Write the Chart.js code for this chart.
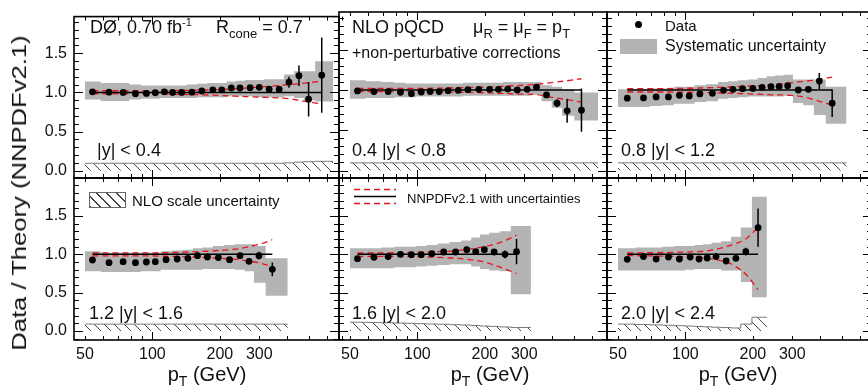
<!DOCTYPE html>
<html>
<head>
<meta charset="utf-8">
<script src="https://cdn.jsdelivr.net/npm/chart.js@4.4.1/dist/chart.umd.min.js"></script>
<style>
  body { margin: 0; background: #fff; }
  #wrap { position: relative; width: 868px; height: 392px; overflow: hidden; background: #fff;
          font-family: "Liberation Sans", Arial, sans-serif; color: #111; }
  #charts canvas { position: absolute; left: 0; top: 0; }
  .t { position: absolute; white-space: nowrap; line-height: 1; transform: translateY(-50%); }
  .t sup { font-size: 11px; vertical-align: 7px; line-height: 0; }
  .t sub { font-size: 13px; vertical-align: -5px; line-height: 0; }
  .ytitle { position: absolute; white-space: nowrap; line-height: 1; font-size: 20px;
            transform: translate(-50%, -50%) rotate(-90deg) scaleX(1.28); }
  .xtitle { position: absolute; white-space: nowrap; line-height: 1; font-size: 20px; transform: translate(-50%, -50%); }
  .xtitle sub { font-size: 14px; vertical-align: -5px; line-height: 0; }
  .sym { position: absolute; }
</style>
</head>
<body>
<div id="wrap">
  <div id="charts"></div>

  <div class="t" style="left:90px;top:27px;font-size:18px">DØ, 0.70 fb<sup>-1</sup></div>
  <div class="t" style="left:216px;top:27px;font-size:18px">R<sub>cone</sub> = 0.7</div>
  <div class="t" style="left:97px;top:150px;font-size:18px">|y| &lt; 0.4</div>

  <div class="t" style="left:352px;top:27px;font-size:18px">NLO pQCD</div>
  <div class="t" style="left:473px;top:27px;font-size:18px">μ<sub>R</sub> = μ<sub>F</sub> = p<sub>T</sub></div>
  <div class="t" style="left:352px;top:53px;font-size:16px">+non-perturbative corrections</div>
  <div class="t" style="left:352px;top:150px;font-size:18px">0.4 |y| &lt; 0.8</div>

  <div class="sym" style="left:635px;top:21px;width:7px;height:7px;border-radius:50%;background:#000"></div>
  <div class="t" style="left:665px;top:25px;font-size:15px">Data</div>
  <div class="sym" style="left:620px;top:39px;width:37px;height:15px;background:#b4b4b4"></div>
  <div class="t" style="left:665px;top:46px;font-size:16px">Systematic uncertainty</div>
  <div class="t" style="left:621px;top:150px;font-size:18px">0.8 |y| &lt; 1.2</div>

  <div class="sym" style="left:89px;top:192px;width:35px;height:14px;border:1px solid #666;
       background:repeating-linear-gradient(45deg,#444 0 1px,transparent 1px 7px)"></div>
  <div class="t" style="left:132px;top:200px;font-size:15px">NLO scale uncertainty</div>
  <div class="t" style="left:89px;top:313px;font-size:18px">1.2 |y| &lt; 1.6</div>

  <svg class="sym" style="left:354px;top:185px" width="44" height="22">
    <line x1="0" y1="4.5" x2="42" y2="4.5" stroke="#e8141b" stroke-width="1.3" stroke-dasharray="6 4"/>
    <line x1="0" y1="11.5" x2="42" y2="11.5" stroke="#000" stroke-width="1.5"/>
    <line x1="0" y1="18.5" x2="42" y2="18.5" stroke="#e8141b" stroke-width="1.3" stroke-dasharray="6 4"/>
  </svg>
  <div class="t" style="left:407px;top:198px;font-size:13px">NNPDFv2.1 with uncertainties</div>
  <div class="t" style="left:352px;top:313px;font-size:18px">1.6 |y| &lt; 2.0</div>

  <div class="t" style="left:621px;top:313px;font-size:18px">2.0 |y| &lt; 2.4</div>

  <div class="ytitle" style="left:19px;top:193px">Data / Theory (NNPDFv2.1)</div>
  <div class="xtitle" style="left:207px;top:374px">p<sub>T</sub> (GeV)</div>
  <div class="xtitle" style="left:490px;top:374px">p<sub>T</sub> (GeV)</div>
  <div class="xtitle" style="left:738px;top:374px">p<sub>T</sub> (GeV)</div>
</div>

<script>
// ---- data ----
// |y| < 0.4
const pt_y1 = [54, 64, 74, 84, 94, 103, 113, 123, 135, 150, 166, 186, 204, 225, 246, 273, 300, 332, 368, 407, 451, 498, 570];
const ratio_y1 = [1.008, 1.004, 1.0, 0.984, 0.988, 0.996, 1.008, 1.0, 1.0, 1.004, 1.02, 1.033, 1.033, 1.057, 1.057, 1.061, 1.066, 1.041, 1.041, 1.131, 1.213, 0.914, 1.221];
const stat_y1 = [0, 0, 0, 0, 0, 0, 0, 0, 0, 0, 0, 0, 0, 0, 0, 0, 0, 0, 0, 0.07, 0.13, 0.22, 0.48];
const sysHi_y1 = [1.14, 1.12, 1.12, 1.10, 1.09, 1.09, 1.09, 1.09, 1.09, 1.10, 1.11, 1.12, 1.12, 1.14, 1.15, 1.16, 1.16, 1.17, 1.17, 1.23, 1.27, 1.27, 1.40];
const sysLo_y1 = [0.91, 0.89, 0.89, 0.91, 0.92, 0.92, 0.93, 0.93, 0.93, 0.93, 0.94, 0.94, 0.94, 0.95, 0.95, 0.95, 0.94, 0.94, 0.94, 0.95, 0.93, 0.90, 0.885];
const pdfUp_y1 = [0.022, 0.022, 0.022, 0.022, 0.022, 0.022, 0.023, 0.024, 0.025, 0.027, 0.03, 0.033, 0.037, 0.043, 0.05, 0.06, 0.068, 0.078, 0.09, 0.1, 0.11, 0.125, 0.145];
const pdfDn_y1 = [-0.018, -0.018, -0.018, -0.018, -0.019, -0.02, -0.022, -0.024, -0.025, -0.027, -0.03, -0.035, -0.04, -0.045, -0.05, -0.055, -0.06, -0.065, -0.07, -0.08, -0.1, -0.12, -0.15];
const scale_y1 = [0.095, 0.095, 0.095, 0.095, 0.095, 0.095, 0.095, 0.095, 0.095, 0.095, 0.095, 0.095, 0.095, 0.095, 0.095, 0.095, 0.095, 0.095, 0.095, 0.1, 0.11, 0.115, 0.12];
const edges_y1 = [50, 640];

// 0.4 < |y| < 0.8
const pt_y2 = [54, 64, 74, 84, 94, 104, 114, 125, 137, 152, 168, 188, 210, 230, 253, 279, 309, 340, 377, 420, 466, 540];
const ratio_y2 = [0.988, 0.98, 0.98, 0.971, 0.955, 0.975, 0.98, 0.98, 0.992, 0.996, 1.004, 1.008, 1.008, 1.008, 1.012, 1.0, 1.008, 1.037, 0.939, 0.836, 0.742, 0.75];
const stat_y2 = [0, 0, 0, 0, 0, 0, 0, 0, 0, 0, 0, 0, 0, 0, 0, 0, 0, 0, 0.03, 0.05, 0.15, 0.27];
const sysHi_y2 = [1.12, 1.11, 1.10, 1.09, 1.08, 1.08, 1.08, 1.08, 1.08, 1.08, 1.09, 1.09, 1.09, 1.09, 1.10, 1.10, 1.10, 1.10, 1.06, 1.04, 1.01, 0.97];
const sysLo_y2 = [0.89, 0.90, 0.90, 0.91, 0.91, 0.92, 0.92, 0.92, 0.92, 0.92, 0.93, 0.93, 0.93, 0.93, 0.93, 0.93, 0.93, 0.94, 0.86, 0.78, 0.68, 0.62];
const pdfUp_y2 = [0.02, 0.02, 0.02, 0.02, 0.02, 0.02, 0.022, 0.024, 0.025, 0.027, 0.03, 0.033, 0.037, 0.043, 0.05, 0.055, 0.062, 0.07, 0.085, 0.1, 0.115, 0.14];
const pdfDn_y2 = [-0.02, -0.02, -0.02, -0.02, -0.02, -0.02, -0.022, -0.024, -0.026, -0.028, -0.03, -0.033, -0.036, -0.04, -0.045, -0.05, -0.052, -0.055, -0.08, -0.1, -0.12, -0.15];
const scale_y2 = [0.095, 0.095, 0.095, 0.095, 0.095, 0.095, 0.095, 0.095, 0.095, 0.095, 0.095, 0.095, 0.095, 0.095, 0.095, 0.095, 0.095, 0.095, 0.095, 0.095, 0.095, 0.095];
const edges_y2 = [50, 640];

// 0.8 < |y| < 1.2
const pt_y3 = [55, 65, 74, 84, 94, 104, 116, 132, 148, 163, 180, 200, 220, 241, 262, 286, 319, 354, 396, 452];
const ratio_y3 = [0.898, 0.902, 0.914, 0.914, 0.934, 0.926, 0.951, 0.959, 0.996, 1.008, 1.016, 1.02, 1.033, 1.041, 1.045, 1.053, 1.0, 1.008, 1.111, 0.836];
const stat_y3 = [0, 0, 0, 0, 0, 0, 0, 0, 0, 0, 0, 0, 0, 0, 0, 0, 0, 0.03, 0.1, 0.17];
const sysHi_y3 = [1.01, 1.01, 1.02, 1.02, 1.04, 1.04, 1.06, 1.07, 1.10, 1.11, 1.12, 1.13, 1.15, 1.17, 1.18, 1.19, 1.13, 1.13, 1.13, 1.04];
const sysLo_y3 = [0.79, 0.79, 0.80, 0.81, 0.83, 0.83, 0.85, 0.86, 0.89, 0.90, 0.91, 0.92, 0.92, 0.92, 0.92, 0.93, 0.84, 0.81, 0.69, 0.58];
const pdfUp_y3 = [0.016, 0.016, 0.017, 0.018, 0.02, 0.022, 0.025, 0.03, 0.035, 0.04, 0.045, 0.05, 0.055, 0.06, 0.07, 0.085, 0.1, 0.115, 0.13, 0.16];
const pdfDn_y3 = [-0.025, -0.025, -0.025, -0.025, -0.026, -0.028, -0.03, -0.033, -0.037, -0.04, -0.045, -0.05, -0.055, -0.06, -0.06, -0.065, -0.075, -0.1, -0.14, -0.19];
const scale_y3 = [0.095, 0.095, 0.095, 0.095, 0.095, 0.095, 0.095, 0.095, 0.095, 0.095, 0.095, 0.095, 0.095, 0.095, 0.095, 0.095, 0.095, 0.095, 0.095, 0.095];
const edges_y3 = [50, 524];

// 1.2 < |y| < 1.6
const pt_y4 = [54, 64, 74, 84, 94, 103, 115, 129, 144, 159, 176, 197, 221, 246, 270, 299, 343];
const ratio_y4 = [0.926, 0.891, 0.904, 0.891, 0.9, 0.904, 0.93, 0.939, 0.948, 0.983, 0.965, 0.957, 0.93, 0.983, 0.909, 0.983, 0.804];
const stat_y4 = [0, 0, 0, 0, 0, 0, 0, 0, 0, 0, 0, 0, 0, 0, 0, 0.05, 0.09];
const sysHi_y4 = [1.04, 1.02, 1.02, 1.02, 1.02, 1.02, 1.04, 1.05, 1.06, 1.08, 1.09, 1.11, 1.12, 1.13, 1.13, 1.11, 0.95];
const sysLo_y4 = [0.78, 0.77, 0.77, 0.77, 0.78, 0.78, 0.80, 0.80, 0.80, 0.80, 0.81, 0.81, 0.81, 0.80, 0.78, 0.63, 0.46];
const pdfUp_y4 = [0.02, 0.02, 0.02, 0.02, 0.02, 0.02, 0.022, 0.025, 0.03, 0.035, 0.04, 0.05, 0.06, 0.075, 0.1, 0.13, 0.19];
const pdfDn_y4 = [-0.02, -0.02, -0.02, -0.02, -0.02, -0.022, -0.025, -0.028, -0.032, -0.037, -0.043, -0.05, -0.06, -0.07, -0.09, -0.11, -0.16];
const scale_y4 = [0.09, 0.09, 0.09, 0.09, 0.09, 0.09, 0.09, 0.09, 0.09, 0.09, 0.09, 0.09, 0.09, 0.09, 0.09, 0.09, 0.09];
const edges_y4 = [50, 402];

// 1.6 < |y| < 2.0
const pt_y5 = [54, 64, 74, 84, 94, 104, 116, 131, 148, 166, 182, 199, 220, 246, 277];
const ratio_y5 = [0.943, 0.961, 0.97, 1.0, 0.996, 0.996, 1.009, 1.03, 1.03, 1.061, 1.035, 1.061, 1.03, 1.0, 1.035];
const stat_y5 = [0, 0, 0, 0, 0, 0, 0, 0, 0, 0, 0, 0, 0, 0.05, 0.165];
const sysHi_y5 = [1.08, 1.08, 1.09, 1.10, 1.10, 1.11, 1.12, 1.14, 1.16, 1.18, 1.22, 1.26, 1.28, 1.30, 1.37];
const sysLo_y5 = [0.82, 0.82, 0.82, 0.83, 0.83, 0.84, 0.85, 0.86, 0.87, 0.87, 0.84, 0.81, 0.79, 0.78, 0.48];
const pdfUp_y5 = [0.017, 0.018, 0.02, 0.022, 0.025, 0.028, 0.032, 0.038, 0.045, 0.065, 0.08, 0.1, 0.13, 0.18, 0.25];
const pdfDn_y5 = [-0.026, -0.026, -0.027, -0.028, -0.03, -0.033, -0.037, -0.043, -0.05, -0.065, -0.08, -0.1, -0.14, -0.19, -0.25];
const scale_y5 = [0.115, 0.112, 0.108, 0.104, 0.1, 0.096, 0.092, 0.088, 0.083, 0.078, 0.072, 0.066, 0.06, 0.053, 0.046];
const edges_y5 = [50, 321];

// 2.0 < |y| < 2.4
const pt_y6 = [55, 65, 74, 84, 94, 105, 115, 125, 137, 152, 168, 186, 211];
const ratio_y6 = [0.935, 0.97, 0.939, 0.965, 0.939, 0.965, 0.939, 0.952, 0.97, 0.913, 0.948, 1.035, 1.348];
const stat_y6 = [0, 0, 0, 0, 0, 0, 0, 0, 0, 0, 0, 0.05, 0.25];
const sysHi_y6 = [1.08, 1.09, 1.09, 1.10, 1.11, 1.11, 1.12, 1.13, 1.15, 1.17, 1.23, 1.35, 1.75];
const sysLo_y6 = [0.79, 0.79, 0.79, 0.79, 0.79, 0.80, 0.81, 0.81, 0.81, 0.79, 0.79, 0.64, 0.44];
const pdfUp_y6 = [0.017, 0.02, 0.022, 0.025, 0.028, 0.032, 0.036, 0.045, 0.065, 0.1, 0.14, 0.2, 0.35];
const pdfDn_y6 = [-0.017, -0.02, -0.022, -0.025, -0.03, -0.035, -0.04, -0.05, -0.07, -0.1, -0.16, -0.26, -0.46];
const scale_y6 = [0.09, 0.085, 0.08, 0.075, 0.07, 0.065, 0.06, 0.055, 0.05, 0.045, 0.04, 0.09, 0.18];
const edges_y6 = [50, 231];

// axis ticks
const xTickLabels = [50, 100, 200, 300];
const xTickMarks = [50, 60, 70, 80, 90, 100, 200, 300, 400, 500, 600, 700];
const yTickLabels = [0, 0.5, 1.0, 1.5];

// ---- layout ----
const XMIN = 44.66, PX_PER_DECADE = 224;
const colX = [74, 339, 607], colW = [265, 268, 265];
const rowY = [12, 178], rowH = [166, 162];
const rowRange = [[-0.093, 1.969], [-0.117, 1.995]];
const CW = 880, CH = 392;
const X_LABEL_H = 30;

const GRAY = '#b4b4b4', RED = '#e8141b';

Chart.defaults.font.family = '"Liberation Sans", Arial, sans-serif';
Chart.defaults.color = '#111';

const panels = [
  {row: 0, col: 0, pt: pt_y1, ratio: ratio_y1, stat: stat_y1, sysHi: sysHi_y1, sysLo: sysLo_y1, pdfUp: pdfUp_y1, pdfDn: pdfDn_y1, scale: scale_y1, edges: edges_y1},
  {row: 0, col: 1, pt: pt_y2, ratio: ratio_y2, stat: stat_y2, sysHi: sysHi_y2, sysLo: sysLo_y2, pdfUp: pdfUp_y2, pdfDn: pdfDn_y2, scale: scale_y2, edges: edges_y2},
  {row: 0, col: 2, pt: pt_y3, ratio: ratio_y3, stat: stat_y3, sysHi: sysHi_y3, sysLo: sysLo_y3, pdfUp: pdfUp_y3, pdfDn: pdfDn_y3, scale: scale_y3, edges: edges_y3},
  {row: 1, col: 0, pt: pt_y4, ratio: ratio_y4, stat: stat_y4, sysHi: sysHi_y4, sysLo: sysLo_y4, pdfUp: pdfUp_y4, pdfDn: pdfDn_y4, scale: scale_y4, edges: edges_y4},
  {row: 1, col: 1, pt: pt_y5, ratio: ratio_y5, stat: stat_y5, sysHi: sysHi_y5, sysLo: sysLo_y5, pdfUp: pdfUp_y5, pdfDn: pdfDn_y5, scale: scale_y5, edges: edges_y5},
  {row: 1, col: 2, pt: pt_y6, ratio: ratio_y6, stat: stat_y6, sysHi: sysHi_y6, sysLo: sysLo_y6, pdfUp: pdfUp_y6, pdfDn: pdfDn_y6, scale: scale_y6, edges: edges_y6}
];

// frame + inward ticks on all four sides
const framePlugin = {
  id: 'frame',
  afterDraw(chart) {
    const {ctx, chartArea: a} = chart;
    const xs = chart.scales.x, ys = chart.scales.y;
    ctx.save();
    ctx.strokeStyle = '#000';
    ctx.lineWidth = 1;
    ctx.beginPath();
    for (const v of xTickMarks) {
      const px = Math.round(xs.getPixelForValue(v)) + 0.5;
      const len = v === 100 ? 8 : 4;
      ctx.moveTo(px, a.bottom); ctx.lineTo(px, a.bottom - len);
      ctx.moveTo(px, a.top); ctx.lineTo(px, a.top + len);
    }
    for (let k = -2; k <= 20; k++) {
      const v = k / 10;
      if (v < ys.min || v > ys.max) continue;
      const py = Math.round(ys.getPixelForValue(v)) + 0.5;
      const len = k % 5 === 0 ? 9 : 5;
      ctx.moveTo(a.left, py); ctx.lineTo(a.left + len, py);
      ctx.moveTo(a.right, py); ctx.lineTo(a.right - len, py);
    }
    ctx.stroke();
    ctx.lineWidth = 1.6;
    ctx.strokeRect(a.left, a.top, a.right - a.left, a.bottom - a.top);
    ctx.restore();
  }
};

function hatchPattern(ctx) {
  const tile = document.createElement('canvas');
  tile.width = 10; tile.height = 10;
  const g = tile.getContext('2d');
  g.strokeStyle = '#444';
  g.lineWidth = 1;
  g.beginPath();
  g.moveTo(0, 0); g.lineTo(10, 10);
  g.moveTo(-2, 8); g.lineTo(2, 12);
  g.moveTo(8, -2); g.lineTo(12, 2);
  g.stroke();
  return ctx.createPattern(tile, 'repeat');
}

function drawPanel(p) {
  const canvas = document.createElement('canvas');
  canvas.width = CW; canvas.height = CH;
  document.getElementById('charts').appendChild(canvas);
  const ctx = canvas.getContext('2d');

  const x0 = colX[p.col], w = colW[p.col], y0 = rowY[p.row], h = rowH[p.row];
  // the axis boxes hold the tick labels; give them real size where labels are shown
  const yAxisW = p.col === 0 ? x0 : 0;
  const xAxisH = p.row === 1 ? X_LABEL_H : 0;
  const n = p.pt.length;
  const bandX = [p.edges[0], ...p.pt, p.edges[1]];
  const padded = arr => [arr[0], ...arr, arr[n - 1]];
  const toPts = (xsArr, ysArr) => ysArr.map((y, i) => ({x: xsArr[i], y: y}));

  const errPts = [];
  p.stat.forEach((e, i) => {
    if (e > 0) {
      errPts.push({x: p.pt[i], y: p.ratio[i] - e}, {x: p.pt[i], y: p.ratio[i] + e}, {x: p.pt[i], y: null});
    }
  });

  new Chart(ctx, {
    type: 'line',
    data: {
      datasets: [
        {data: toPts(bandX, padded(p.sysHi)), stepped: 'middle', fill: '+1', backgroundColor: GRAY,
         borderWidth: 0, borderColor: 'rgba(0,0,0,0)', pointRadius: 0, order: 6},
        {data: toPts(bandX, padded(p.sysLo)), stepped: 'middle', fill: false,
         borderWidth: 0, borderColor: 'rgba(0,0,0,0)', pointRadius: 0, order: 6},
        {data: toPts(bandX, padded(p.scale)), stepped: 'middle', fill: 'origin', backgroundColor: hatchPattern(ctx),
         borderColor: '#777', borderWidth: 1, pointRadius: 0, order: 5},
        {data: p.pt.map((x, i) => ({x: x, y: 1 + p.pdfUp[i]})), borderColor: RED, borderDash: [6, 4],
         borderWidth: 1.3, pointRadius: 0, cubicInterpolationMode: 'monotone', fill: false, order: 4},
        {data: p.pt.map((x, i) => ({x: x, y: 1 + p.pdfDn[i]})), borderColor: RED, borderDash: [6, 4],
         borderWidth: 1.3, pointRadius: 0, cubicInterpolationMode: 'monotone', fill: false, order: 3},
        {data: [{x: p.pt[0], y: 1}, {x: p.pt[n - 1], y: 1}], borderColor: '#000', borderWidth: 1.5,
         pointRadius: 0, fill: false, order: 2},
        {data: errPts, borderColor: '#000', borderWidth: 1.5, pointRadius: 0, spanGaps: false, fill: false, order: 1},
        {data: toPts(p.pt, p.ratio), showLine: false, pointRadius: 3.4, pointBackgroundColor: '#000',
         pointBorderWidth: 0, fill: false, order: 0}
      ]
    },
    options: {
      responsive: false,
      animation: false,
      events: [],
      layout: {padding: {left: x0 - yAxisW, top: y0, right: CW - x0 - w, bottom: CH - y0 - h - xAxisH}},
      plugins: {legend: {display: false}, tooltip: {enabled: false}},
      scales: {
        x: {
          type: 'logarithmic',
          min: XMIN,
          max: XMIN * Math.pow(10, w / PX_PER_DECADE),
          afterFit: s => { s.height = xAxisH; },
          afterBuildTicks: s => { s.ticks = xTickLabels.map(v => ({value: v})); },
          grid: {display: false, drawTicks: false},
          border: {display: false},
          ticks: {display: p.row === 1, autoSkip: false, maxRotation: 0, padding: 5,
                  font: {size: 16}, color: '#111', callback: v => String(v)}
        },
        y: {
          min: rowRange[p.row][0],
          max: rowRange[p.row][1],
          afterFit: s => { s.width = yAxisW; },
          afterBuildTicks: s => { s.ticks = yTickLabels.map(v => ({value: v})); },
          grid: {display: false, drawTicks: false},
          border: {display: false},
          ticks: {display: p.col === 0, autoSkip: false, padding: 7,
                  font: {size: 16}, color: '#111', callback: v => v.toFixed(1)}
        }
      }
    },
    plugins: [framePlugin]
  });
}

panels.forEach(drawPanel);
</script>
</body>
</html>
